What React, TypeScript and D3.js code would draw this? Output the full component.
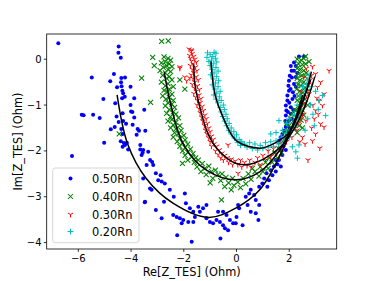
import React from 'react';
import * as d3 from 'd3';

type P = [number, number];

const xTicks = [-6, -4, -2, 0, 2];
const yTicks = [0, -1, -2, -3, -4];
const seriesNames = ['0.50Rn', '0.40Rn', '0.30Rn', '0.20Rn'];

const blue: P[] = [
  [-6.76,0.35],[-4.47,0.28],[-4.48,0.14],[-4.39,0.03],[-5.49,-0.40],[-4.65,-0.32],[-4.79,-0.48],[-4.37,-0.41],[-4.23,-0.40],[-4.38,-0.50],[-4.53,-0.61],[-4.36,-0.59],[-4.02,-0.60],[-4.33,-0.69],[-4.30,-0.74],[-4.24,-0.82],[-4.34,-0.85],[-3.88,-0.85],[-5.05,-0.87],[-4.60,-0.96],[-4.02,-1.00],[-3.50,-1.10],[-4.00,-1.14],[-3.95,-1.15],[-5.87,-1.21],[-5.80,-1.22],[-5.44,-1.21],[-5.19,-1.28],[-4.55,-1.25],[-4.32,-1.18],[-3.88,-1.27],[-4.47,-1.37],[-4.30,-1.35],[-4.19,-1.41],[-3.94,-1.43],[-4.62,-1.48],[-4.77,-1.53],[-4.37,-1.52],[-3.75,-1.52],[-3.70,-1.56],[-3.79,-1.65],[-4.32,-1.63],[-5.02,-1.82],[-4.39,-1.79],[-4.27,-1.83],[-3.46,-1.56],
  [-4.32,-1.91],[-4.23,-1.87],[-4.16,-1.82],[-4.11,-1.97],[-3.65,-1.87],[-3.65,-1.97],[-3.56,-2.04],[-6.24,-2.11],[-3.48,-3.12],
  [-3.54,-1.98],[-3.60,-2.09],[-3.35,-2.02],[-3.28,-2.20],[-3.20,-2.24],[-3.16,-2.31],[-3.41,-2.31],[-3.06,-2.49],[-2.97,-2.64],[-2.84,-2.67],[-2.72,-2.71],[-2.88,-2.53],[-3.28,-2.82],[-3.47,-3.11],[-3.22,-2.85],[-3.06,-3.29],[-2.84,-3.47],[-2.75,-3.11],[-2.53,-2.85],[-2.38,-3.0],[-1.96,-2.93],[-1.92,-3.14],[-1.77,-3.25],[-1.64,-3.33],[-1.45,-3.22],[-1.39,-3.33],[-1.27,-3.25],[-2.4,-3.40],[-2.27,-3.44],[-2.15,-3.47],[-2.02,-3.51],[-1.83,-3.55],[-1.64,-3.55],[-2.08,-3.58],[-2.25,-3.84],[-1.70,-3.98],[-1.58,-3.44],[-1.14,-3.47],[-1.01,-3.55],[-0.89,-3.58],[-0.76,-3.51],[-0.63,-3.55],[-0.51,-3.62],[-0.44,-3.69],[-0.32,-3.73],[-0.61,-3.91],[-0.70,-3.33],[-0.51,-3.33],[-0.38,-3.40],[-0.25,-3.51],[-0.13,-3.58],[0,-3.44],[0.06,-3.18],[-1.14,-3.18],[-3.54,-2.6],
  [0.1,-3.25],[0.42,-3.18],[0.54,-3.33],[0.35,-3.0],[0.48,-2.93],[0.67,-2.96],[0.73,-3.07],[0.86,-3.18],[0.73,-3.36],[0.83,-3.51],[0.54,-2.85],[0.86,-2.78],[0.98,-2.71],[1.17,-2.78],[1.05,-2.6],[1.14,-2.49],[1.23,-2.64],[1.36,-2.53],[1.30,-2.42],[1.42,-2.34],[1.49,-2.45],[1.55,-2.29],[1.61,-2.20],[1.49,-2.20],[1.74,-2.09],[1.68,-2.34],[1.87,-1.98],[0.23,-3.62],[-0.03,-3.58],
  [2.37,0.06],[2.56,0.06],[2.18,-0.07],[2.06,-0.15],[2.09,-0.25],[2.02,-0.36],[1.99,-0.47],[1.97,-0.58],[1.99,-0.69],[1.93,-0.79],[1.93,-0.90],[1.87,-1.01],[1.89,-1.12],[1.87,-1.23],[2.18,-0.25],[2.25,-0.39],[2.18,-0.54],[2.14,-0.72],[2.12,-0.87],[2.06,-1.05],[2.06,-1.19],[1.99,-1.34],[1.93,-1.41],[1.87,-1.48],[1.80,-1.56],[1.74,-1.63],[1.68,-1.70],[1.61,-1.78],
  [2.25,-0.15],[2.3,-0.3],[2.1,-0.4],[2.25,-0.6],[2.05,-0.65],[2.2,-0.8],[2.0,-0.95],[2.15,-1.1],[1.95,-1.15],[2.1,-1.3],[1.85,-1.35],[1.95,-1.6],[1.78,-1.9],[1.7,-2.0],[2.02,-1.5],
];

const green: P[] = [
  [-2.75,0.05],[-2.6,0.02],[-2.5,-0.02],[-2.7,-0.05],[-2.85,-0.08],[-2.55,-0.1],[-2.65,-0.14],[-2.45,-0.16],[-2.78,-0.18],[-2.6,-0.22],[-2.9,-0.25],[-2.5,-0.27],[-2.7,-0.3],
  [-2.8,-0.35],[-2.55,-0.38],[-2.65,-0.42],[-2.45,-0.45],[-2.85,-0.5],[-2.6,-0.53],[-2.7,-0.58],[-2.4,-0.6],[-2.55,-0.65],[-2.75,-0.68],[-2.62,-0.72],[-2.45,-0.76],[-2.8,-0.8],[-2.55,-0.83],[-2.68,-0.87],[-2.4,-0.9],
  [-2.6,-0.95],[-2.45,-0.98],[-2.7,-1.02],[-2.35,-1.05],[-2.55,-1.1],[-2.4,-1.15],[-2.65,-1.18],[-2.3,-1.2],[-2.5,-1.25],[-2.2,-1.28],[-2.45,-1.32],[-2.6,-1.35],[-2.3,-1.38],[-2.4,-1.43],[-2.15,-1.45],[-2.5,-1.5],
  [-2.3,-1.52],[-2.1,-1.55],[-2.35,-1.6],[-2.2,-1.63],[-2.0,-1.66],[-2.4,-1.7],[-2.15,-1.72],[-1.95,-1.76],[-2.25,-1.8],[-2.05,-1.82],[-1.85,-1.85],[-2.15,-1.9],
  [-1.95,-1.93],[-1.75,-1.96],[-2.05,-2.0],[-1.85,-2.03],[-1.65,-2.06],[-1.95,-2.1],[-1.7,-2.13],[-1.55,-2.15],[-1.85,-2.2],[-2.05,-2.27],[-1.6,-2.25],
  [-1.45,-2.2],[-1.3,-2.28],[-1.5,-2.35],[-1.2,-2.38],[-1.05,-2.33],[-1.35,-2.45],[-0.95,-2.45],[-1.15,-2.52],[-0.8,-2.42],[-0.7,-2.52],[-0.9,-2.6],[-0.55,-2.5],[-0.6,-2.65],[-0.4,-2.58],[-0.3,-2.7],[-0.45,-2.78],[-0.15,-2.6],[-0.1,-2.75],[0.05,-2.68],[-0.2,-2.85],[0.15,-2.8],[-0.57,-3.07],[-1.0,-2.7],
  [0.25,-2.6],[0.35,-2.72],[0.45,-2.5],[0.55,-2.62],[0.7,-2.45],[0.6,-2.38],[0.85,-2.55],[0.9,-2.35],[1.0,-2.45],[1.1,-2.25],[1.2,-2.38],[1.25,-2.15],[1.35,-2.25],[1.45,-2.05],[1.55,-2.15],[1.6,-1.95],[1.7,-2.05],
  [1.75,-1.8],[1.85,-1.7],[1.8,-1.6],[1.95,-1.55],[2.0,-1.45],[1.9,-1.4],[2.05,-1.3],[2.1,-1.2],[2.15,-1.35],[2.2,-1.1],
  [2.3,0.0],[2.45,-0.02],[2.55,0.02],[2.35,-0.1],[2.5,-0.12],[2.62,-0.1],[2.3,-0.2],[2.42,-0.22],[2.55,-0.25],[2.35,-0.32],[2.48,-0.35],[2.6,-0.38],[2.3,-0.42],[2.4,-0.46],[2.55,-0.5],[2.33,-0.55],[2.45,-0.58],[2.6,-0.62],[2.28,-0.65],[2.4,-0.7],[2.52,-0.73],[2.35,-0.8],[2.47,-0.83],[2.6,-0.87],[2.3,-0.9],[2.42,-0.95],[2.55,-0.98],[2.35,-1.05],[2.48,-1.1],[2.25,-1.12],[2.4,-1.18],[2.55,-1.22],[2.32,-1.28],[2.45,-1.33],[2.25,-1.4],[2.38,-1.45],[2.5,-1.5],[2.2,-1.52],[2.3,-1.6],[2.65,-0.3],[2.68,-0.7],[2.7,-1.0],
  [-2.84,0.39],[-2.59,0.40],[-3.18,0.04],[-3.12,-0.14],[-3.6,-0.41],[-3.26,-0.94],[-4.45,-1.63],[-2.15,-0.45],[-1.96,-0.65],[2.62,0.06],[2.75,-0.05],
];

const red: P[] = [
  [-1.8,0.22],[-1.72,0.2],[-1.68,0.12],[-1.78,0.08],[-1.62,0.06],[-1.75,0.02],[-1.58,0.0],[-1.7,-0.04],[-1.52,-0.06],[-1.65,-0.1],[-1.75,-0.14],[-1.55,-0.17],[-1.68,-0.22],[-1.5,-0.25],[-1.62,-0.3],[-1.72,-0.34],[-1.53,-0.38],[-1.65,-0.42],[-1.45,-0.45],[-1.58,-0.5],[-1.68,-0.55],[-1.48,-0.58],[-1.6,-0.63],[-1.4,-0.66],[-1.52,-0.7],[-1.62,-0.75],[-1.42,-0.78],[-1.55,-0.83],[-1.35,-0.86],[-1.48,-0.9],
  [-1.38,-0.95],[-1.5,-1.0],[-1.3,-1.03],[-1.42,-1.08],[-1.25,-1.12],[-1.38,-1.17],[-1.2,-1.22],[-1.32,-1.27],[-1.15,-1.3],[-1.28,-1.35],[-1.1,-1.4],[-1.22,-1.45],[-1.05,-1.5],[-1.18,-1.55],[-1.0,-1.58],[-1.12,-1.63],[-0.95,-1.68],[-1.05,-1.72],[-0.88,-1.75],[-1.0,-1.8],[-0.85,-1.85],[-0.95,-1.9],
  [-0.75,-1.9],[-0.8,-2.0],[-0.65,-1.98],[-0.7,-2.08],[-0.55,-2.05],[-0.6,-2.15],[-0.45,-2.1],[-0.5,-2.2],[-0.35,-2.15],[-0.3,-2.25],[-0.2,-2.18],[-0.15,-2.3],[-0.05,-2.22],[0.05,-2.3],[0.15,-2.2],[0.2,-2.35],[0.3,-2.25],[0.4,-2.32],[0.5,-2.2],[0.55,-2.35],[-0.32,-1.87],[0.06,-2.49],
  [0.7,-2.25],[0.8,-2.15],[0.9,-2.3],[1.0,-2.1],[1.1,-2.2],[1.2,-2.0],[1.3,-2.12],[1.4,-1.95],[1.5,-2.05],[1.6,-1.85],[1.7,-1.95],[1.8,-1.75],[1.9,-1.8],[2.0,-1.65],[2.1,-1.7],[2.2,-1.5],[2.3,-1.55],[2.35,-1.4],[2.45,-1.3],[2.5,-1.2],[2.55,-1.05],[2.6,-0.95],[2.65,-0.8],[2.7,-0.7],[2.75,-0.55],[2.8,-0.45],[2.85,-0.35],
  [2.88,-0.16],[3.51,-0.25],[3.0,-0.32],[3.07,-0.61],[3.19,-0.50],[3.32,-0.76],[3.13,-0.90],[3.26,-1.01],[3.0,-1.12],[3.19,-1.41],[3.32,-1.48],[3.0,-1.63],[2.88,-1.78],[2.63,-1.34],[2.75,-0.76],[3.16,-1.94],[2.71,-2.2],[2.9,-1.0],[2.95,-1.3],[3.05,-0.85],[2.85,-1.5],[3.1,-1.2],[2.5,-1.7],[2.6,-1.85],[2.4,-1.8],[2.55,-0.4],[2.65,-0.2],[2.45,-0.7],
  [-2.15,-0.17],[-1.96,-0.39],[-1.89,-0.47],[-2.15,-0.2],[-1.77,-0.41],[-1.7,0.18],
];

const cyan: P[] = [
  [-1.1,0.14],[-0.85,0.15],[-0.78,0.13],[-1.0,0.1],[-0.9,0.06],[-1.12,0.04],[-0.8,0.02],[-0.95,-0.02],[-1.05,-0.05],[-0.75,-0.06],[-0.88,-0.1],[-1.0,-0.14],[-0.78,-0.18],[-0.92,-0.22],[-0.7,-0.26],[-0.85,-0.3],[-0.98,-0.34],[-0.75,-0.38],[-0.88,-0.43],[-0.68,-0.47],[-0.8,-0.52],[-0.92,-0.56],[-0.7,-0.6],[-0.82,-0.65],[-0.62,-0.7],[-0.75,-0.74],[-0.86,-0.78],[-0.65,-0.82],[-0.78,-0.87],[-0.58,-0.9],
  [-0.7,-0.95],[-0.5,-1.0],[-0.62,-1.05],[-0.45,-1.1],[-0.58,-1.15],[-0.4,-1.2],[-0.52,-1.25],[-0.35,-1.3],[-0.45,-1.35],[-0.28,-1.4],[-0.38,-1.45],[-0.2,-1.5],[-0.3,-1.55],[-0.1,-1.58],[-0.2,-1.63],[0.0,-1.65],[-0.08,-1.72],[0.1,-1.75],[0.05,-1.82],[0.2,-1.8],[0.15,-1.88],[0.3,-1.85],
  [0.4,-1.92],[0.5,-1.82],[0.6,-1.95],[0.7,-1.85],[0.8,-1.98],[0.9,-1.88],[1.0,-1.95],[1.1,-1.82],[1.2,-1.92],[1.3,-1.8],[1.4,-1.9],[1.5,-1.78],[1.6,-1.85],[1.7,-1.7],[1.8,-1.78],[1.9,-1.62],[2.0,-1.7],[2.1,-1.55],
  [2.15,-1.4],[2.25,-1.45],[2.3,-1.3],[2.35,-1.2],[2.4,-1.1],[2.45,-1.0],[2.5,-0.9],[2.55,-0.8],[2.6,-0.7],[2.65,-0.55],[2.7,-0.45],[2.75,-0.35],[2.5,-0.6],[2.4,-0.8],[2.3,-1.0],[2.2,-1.2],
  [3.38,-1.23],[3.26,-0.79],[3.13,-0.9],[1.61,-1.34],[1.3,-1.63],[0.16,-1.81],[2.37,-1.87],[2.25,-2.02],[2.31,-2.16],[2.12,-1.91],[2.8,-1.0],[2.9,-1.2],[3.0,-0.7],[2.95,-1.45],[2.7,-1.3],[2.6,-1.55],[3.1,-1.1],[2.85,-0.6],[1.9,-1.4],[1.75,-1.55],[1.5,-1.6],[2.0,-1.3],
];

const fitBlue: P[] = [[-4.53,-0.78],[-4.13,-1.85],[-3.44,-2.59],[-2.41,-3.14],[-1.08,-3.45],[-0.03,-3.25],[0.88,-2.85],[1.75,-1.98],[2.21,-1.33],[2.51,-0.78]];
const fitGreen: P[] = [[-2.74,-0.28],[-2.53,-0.9],[-2.02,-1.85],[-1.14,-2.42],[0,-2.63],[0.88,-2.46],[1.64,-1.98],[2.21,-1.33],[2.59,-0.78],[2.81,-0.45]];
const fitRed: P[] = [[-1.62,-0.11],[-1.58,-0.54],[-1.39,-1.05],[-1.08,-1.63],[-0.7,-1.98],[-0.03,-2.27],[0.5,-2.29],[1.2,-2.12],[1.85,-1.8],[2.3,-1.4],[2.65,-0.95],[2.97,-0.38]];
const fitCyan: P[] = [[-0.97,-0.05],[-0.82,-0.76],[-0.51,-1.27],[0,-1.78],[0.88,-1.94],[1.45,-1.83],[2.02,-1.58],[2.52,-0.93],[2.84,-0.27]];

const W = 374, H = 281;
const L = 46.7, R = 336.7, T = 34, B = 249;
const FONT = 'DejaVu Sans, sans-serif';

type Kind = 'dot' | 'x' | 'tri' | 'plus';
const COLORS: Record<Kind, string> = { dot: '#0000ff', x: '#008000', tri: '#ff0000', plus: '#00bfbf' };

function Marker({ kind, cx, cy }: { kind: Kind; cx: number; cy: number }) {
  const c = COLORS[kind];
  if (kind === 'dot') return <circle cx={cx} cy={cy} r={2.0} fill={c} />;
  if (kind === 'x') {
    const s = 2.5;
    return <path d={`M${cx - s},${cy - s}L${cx + s},${cy + s}M${cx - s},${cy + s}L${cx + s},${cy - s}`} stroke={c} strokeWidth={1.05} fill="none" />;
  }
  if (kind === 'tri') {
    const s = 2.9;
    return <path d={`M${cx},${cy}L${cx},${cy + s}M${cx},${cy}L${cx - s * 0.866},${cy - s * 0.5}M${cx},${cy}L${cx + s * 0.866},${cy - s * 0.5}`} stroke={c} strokeWidth={1} fill="none" />;
  }
  const s = 2.9;
  return <path d={`M${cx - s},${cy}L${cx + s},${cy}M${cx},${cy - s}L${cx},${cy + s}`} stroke={c} strokeWidth={1} fill="none" />;
}

export default function App() {
  const x = d3.scaleLinear().domain([-7.2, 3.8]).range([L, R]);
  const y = d3.scaleLinear().domain([-4.14, 0.55]).range([B, T]);
  const line = d3.line<P>().x(d => x(d[0])).y(d => y(d[1])).curve(d3.curveCatmullRom.alpha(0.5));
  const series: { data: P[]; kind: Kind }[] = [
    { data: blue, kind: 'dot' },
    { data: green, kind: 'x' },
    { data: red, kind: 'tri' },
    { data: cyan, kind: 'plus' },
  ];
  const fits = [fitBlue, fitGreen, fitRed, fitCyan];
  const legendY = [178.5, 196.5, 214.5, 231.5];
  return (
    <svg width={W} height={H} style={{ position: 'absolute', left: 0, top: 0, background: '#fff' }} fontFamily={FONT}>
      <defs>
        <clipPath id="plot"><rect x={L} y={T} width={R - L} height={B - T} /></clipPath>
      </defs>
      <rect x={0} y={0} width={W} height={H} fill="#fff" />
      <g clipPath="url(#plot)">
        {series.map((s, i) => (
          <g key={i}>
            {s.data.map((d, j) => <Marker key={j} kind={s.kind} cx={x(d[0])} cy={y(d[1])} />)}
          </g>
        ))}
        {fits.map((f, i) => <path key={i} d={line(f) || ''} fill="none" stroke="#000" strokeWidth={1.5} />)}
      </g>
      <rect x={L} y={T} width={R - L} height={B - T} fill="none" stroke="#000" strokeWidth={0.8} />
      {xTicks.map(t => (
        <g key={t}>
          <line x1={x(t)} x2={x(t)} y1={B} y2={B + 2.9} stroke="#000" strokeWidth={0.8} />
          <text x={x(t)} y={262} fontSize={10} textAnchor="middle" fill="#000">{t < 0 ? `\u2212${Math.abs(t)}` : `${t}`}</text>
        </g>
      ))}
      {yTicks.map(t => (
        <g key={t}>
          <line x1={L - 2.9} x2={L} y1={y(t)} y2={y(t)} stroke="#000" strokeWidth={0.8} />
          <text x={41.5} y={y(t) + 3.6} fontSize={10} textAnchor="end" fill="#000">{t < 0 ? `\u2212${Math.abs(t)}` : `${t}`}</text>
        </g>
      ))}
      <text x={(L + R) / 2} y={275.5} fontSize={11.4} textAnchor="middle" fill="#000">Re[Z_TES] (Ohm)</text>
      <text transform={`translate(21.5,${(T + B) / 2}) rotate(-90)`} fontSize={11.4} textAnchor="middle" fill="#000">Im[Z_TES] (Ohm)</text>
      <g>
        <rect x={52.7} y={168} width={86.3} height={74.7} rx={2.5} fill="#fff" fillOpacity={0.8} stroke="#cccccc" strokeWidth={0.8} />
        {series.map((s, i) => (
          <g key={i}>
            <Marker kind={s.kind} cx={70.5} cy={legendY[i]} />
            <text x={92} y={legendY[i] + 4.1} fontSize={11.4} fill="#000">{seriesNames[i]}</text>
          </g>
        ))}
      </g>
    </svg>
  );
}
